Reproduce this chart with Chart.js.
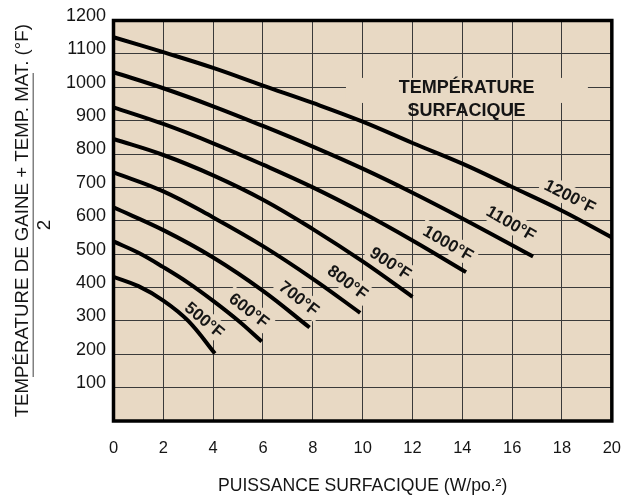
<!DOCTYPE html>
<html>
<head>
<meta charset="utf-8">
<script src="https://cdn.jsdelivr.net/npm/chart.js@4.4.0/dist/chart.umd.min.js"></script>
<style>
  html, body { margin: 0; padding: 0; background: #fff; }
  canvas { display: block; }
</style>
</head>
<body>
<canvas id="chart" width="639" height="498"></canvas>
<script>
// curve names (surface temperature)
const curveNames = ['500°F', '600°F', '700°F', '800°F', '900°F', '1000°F', '1100°F', '1200°F'];

// power density (W/po.²) and (sheath + material temp) / 2 (°F)
const power500 = [0, 1, 2, 3, 4.07];
const temp500 = [432, 404, 361, 300, 202];
const power600 = [0, 1, 2, 3, 4, 5, 5.95];
const temp600 = [538, 504, 461, 414, 360, 301, 238];
const power700 = [0, 2, 4, 6, 7.87];
const temp700 = [640, 572, 490, 390, 280];
const power800 = [0, 2, 4, 6, 8, 9.9];
const temp800 = [745, 688, 610, 524, 426, 324];
const power900 = [0, 2, 4, 6, 8, 10, 12];
const temp900 = [845, 797, 736, 663, 575, 478, 372];
const power1000 = [0, 2, 4, 6, 8, 10, 12, 14.15];
const temp1000 = [940, 890, 832, 768, 700, 624, 541, 446];
const power1100 = [0, 2, 4, 6, 8, 10, 12, 14, 16.84];
const temp1100 = [1045, 997, 943, 884, 822, 756, 684, 607, 493];
const power1200 = [0, 2, 4, 6, 8, 10, 12, 14, 16, 18, 20];
const temp1200 = [1150, 1105, 1058, 1005, 953, 897, 833, 771, 701, 630, 550];

const xTickValues = [0, 2, 4, 6, 8, 10, 12, 14, 16, 18, 20];
const yTickValues = [0, 100, 200, 300, 400, 500, 600, 700, 800, 900, 1000, 1100, 1200];

const headingLines = ['TEMPÉRATURE', 'SURFACIQUE'];

// where the curve names sit: [power, temp, angle in degrees]
const labelSpots = [
    [3.66, 303, 40],
    [5.45, 332, 38],
    [7.45, 368, 38],
    [9.41, 416, 37],
    [11.13, 473, 33],
    [13.44, 533, 30],
    [15.96, 593, 30],
    [18.32, 674, 27]
];

const paper = '#e8d9c4';
const ink = '#151515';
const family = '"Liberation Sans", Arial, Helvetica, sans-serif';

const powers = [power500, power600, power700, power800, power900, power1000, power1100, power1200];
const temps = [temp500, temp600, temp700, temp800, temp900, temp1000, temp1100, temp1200];

const datasets = curveNames.map((name, i) => ({
    label: name,
    data: powers[i].map((p, j) => ({ x: p, y: temps[i][j] })),
    borderColor: '#000',
    borderWidth: 4,
    pointRadius: 0,
    fill: false,
    tension: 0.4
}));

const sheetPlugin = {
    id: 'sheet',
    beforeDraw(chart) {
        const { ctx, chartArea: a } = chart;
        ctx.save();
        ctx.fillStyle = paper;
        ctx.fillRect(a.left, a.top, a.right - a.left, a.bottom - a.top);
        ctx.restore();
    },
    beforeDatasetsDraw(chart) {
        const { ctx, scales: { x, y } } = chart;
        ctx.save();
        ctx.fillStyle = paper;
        // strip behind the heading that breaks the grid
        const l = x.getPixelForValue(9.33), r = x.getPixelForValue(19.04);
        const t = y.getPixelForValue(1028), b = y.getPixelForValue(953);
        ctx.fillRect(l, t, r - l, b - t);

        ctx.font = 'bold 17px ' + family;
        labelSpots.forEach((s, i) => {
            const w = ctx.measureText(curveNames[i]).width + 8;
            ctx.save();
            ctx.translate(x.getPixelForValue(s[0]), y.getPixelForValue(s[1]));
            ctx.rotate(s[2] * Math.PI / 180);
            ctx.fillRect(-w / 2, -10, w, 20);
            ctx.restore();
        });
        ctx.restore();
    },
    afterDatasetsDraw(chart) {
        const { ctx, chartArea: a, scales: { x, y } } = chart;
        ctx.save();
        ctx.strokeStyle = '#000';
        ctx.lineWidth = 3.5;
        ctx.strokeRect(a.left, a.top, a.right - a.left, a.bottom - a.top);

        ctx.fillStyle = ink;
        ctx.textAlign = 'center';
        ctx.textBaseline = 'middle';
        ctx.font = 'bold 17px ' + family;
        labelSpots.forEach((s, i) => {
            ctx.save();
            ctx.translate(x.getPixelForValue(s[0]), y.getPixelForValue(s[1]));
            ctx.rotate(s[2] * Math.PI / 180);
            ctx.fillText(curveNames[i], 0, 1);
            ctx.restore();
        });

        ctx.font = 'bold 18px ' + family;
        const hx = x.getPixelForValue(14.17);
        ctx.fillText(headingLines[0], hx, y.getPixelForValue(998));
        ctx.fillText(headingLines[1], hx, y.getPixelForValue(929));
        ctx.restore();
    },
    afterDraw(chart) {
        const { ctx } = chart;
        ctx.save();
        // fraction bar and the "2" under the y title
        ctx.fillStyle = '#808080';
        ctx.fillRect(32.5, 73, 1.5, 304);
        ctx.fillStyle = ink;
        ctx.font = '18.7px ' + family;
        ctx.textAlign = 'center';
        ctx.textBaseline = 'middle';
        ctx.translate(45, 225);
        ctx.rotate(-Math.PI / 2);
        ctx.fillText('2', 0, 0);
        ctx.restore();
    }
};

new Chart(document.getElementById('chart'), {
    type: 'line',
    data: { datasets: datasets },
    options: {
        responsive: false,
        animation: false,
        devicePixelRatio: 1,
        layout: { padding: { top: 20.5, right: 25, left: 0, bottom: 0 } },
        plugins: {
            legend: { display: false },
            tooltip: { enabled: false }
        },
        scales: {
            x: {
                type: 'linear',
                min: 0,
                max: 20,
                afterBuildTicks: s => { s.ticks = xTickValues.map(v => ({ value: v })); },
                afterFit: s => { s.height = 77; },
                grid: { color: '#3a3a3a', lineWidth: 1, drawTicks: false },
                border: { display: false },
                ticks: {
                    autoSkip: false,
                    maxRotation: 0,
                    padding: 18,
                    color: ink,
                    font: { size: 16.5, family: family }
                },
                title: {
                    display: true,
                    text: 'PUISSANCE SURFACIQUE (W/po.²)',
                    color: ink,
                    font: { size: 17.6, family: family },
                    padding: { top: 0, bottom: 1.5 }
                }
            },
            y: {
                type: 'linear',
                min: 0,
                max: 1200,
                afterBuildTicks: s => { s.ticks = yTickValues.map(v => ({ value: v })); },
                afterFit: s => { s.width = 113.5; },
                grid: { color: '#3a3a3a', lineWidth: 1, drawTicks: false },
                border: { display: false },
                ticks: {
                    padding: 7.5,
                    color: ink,
                    font: { size: 18, family: family, lineHeight: 0.5 },
                    callback: v => v === 0 ? '' : [String(v), '']
                },
                title: {
                    display: true,
                    text: 'TEMPÉRATURE DE GAINE + TEMP. MAT. (°F)',
                    color: ink,
                    font: { size: 18.7, family: family },
                    padding: { top: 11.8, bottom: 0 }
                }
            }
        }
    },
    plugins: [sheetPlugin]
});
</script>
</body>
</html>
